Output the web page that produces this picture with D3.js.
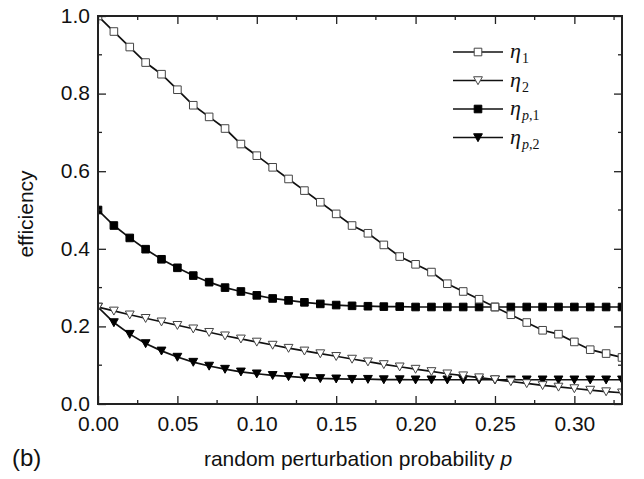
<!DOCTYPE html>
<html>
<head>
<meta charset="utf-8">
<script src="https://cdn.jsdelivr.net/npm/d3@7"></script>
<style>
  body { margin: 0; background: #fff; }
</style>
</head>
<body>
<svg id="chart" width="644" height="479" font-family="Arial, 'Liberation Sans', sans-serif"></svg>
<script>
"use strict";

// perturbation probability p, 0.00 .. 0.33
var pValues = [0.00, 0.01, 0.02, 0.03, 0.04, 0.05, 0.06, 0.07, 0.08, 0.09,
               0.10, 0.11, 0.12, 0.13, 0.14, 0.15, 0.16, 0.17, 0.18, 0.19,
               0.20, 0.21, 0.22, 0.23, 0.24, 0.25, 0.26, 0.27, 0.28, 0.29,
               0.30, 0.31, 0.32, 0.33];

var eta1 = [1.00, 0.96, 0.92, 0.88, 0.85, 0.81, 0.77, 0.74, 0.71, 0.67,
            0.64, 0.61, 0.58, 0.55, 0.52, 0.49, 0.46, 0.44, 0.41, 0.38,
            0.36, 0.34, 0.31, 0.29, 0.27, 0.25, 0.23, 0.21, 0.19, 0.18,
            0.16, 0.14, 0.13, 0.12];

var eta2 = [0.250, 0.240, 0.230, 0.221, 0.212, 0.203, 0.194, 0.185, 0.176, 0.168,
            0.160, 0.152, 0.144, 0.137, 0.130, 0.123, 0.116, 0.109, 0.102, 0.096,
            0.090, 0.084, 0.078, 0.073, 0.068, 0.063, 0.058, 0.053, 0.048, 0.044,
            0.040, 0.036, 0.032, 0.029];

var etaP1 = [0.500, 0.460, 0.428, 0.399, 0.373, 0.351, 0.331, 0.314, 0.300, 0.290,
             0.280, 0.272, 0.267, 0.262, 0.258, 0.255, 0.253, 0.252, 0.251, 0.251,
             0.250, 0.250, 0.250, 0.250, 0.250, 0.250, 0.250, 0.250, 0.250, 0.250,
             0.250, 0.250, 0.250, 0.250];

var etaP2 = [0.250, 0.210, 0.180, 0.156, 0.137, 0.121, 0.108, 0.098, 0.090, 0.083,
             0.078, 0.074, 0.071, 0.068, 0.066, 0.065, 0.064, 0.064, 0.063, 0.063,
             0.0625, 0.0625, 0.0625, 0.0625, 0.0625, 0.0625, 0.0625, 0.0625, 0.0625, 0.0625,
             0.0625, 0.0625, 0.0625, 0.0625];

var xTicks = [0.00, 0.05, 0.10, 0.15, 0.20, 0.25, 0.30];
var yTicks = [0.0, 0.2, 0.4, 0.6, 0.8, 1.0];

var margin = {left: 98, top: 16, right: 22, bottom: 75},
    width = 644 - margin.left - margin.right,
    height = 479 - margin.top - margin.bottom;

var svg = d3.select("#chart");
var g = svg.append("g").attr("transform", "translate(" + margin.left + "," + margin.top + ")");

var x = d3.scaleLinear().domain([0, 0.33]).range([0, width]);
var y = d3.scaleLinear().domain([0, 1.0]).range([height, 0]);

// clip markers at plot edges
svg.append("defs").append("clipPath").attr("id", "plotClip")
    .append("rect").attr("width", width).attr("height", height);

// marker shapes
function squarePath(s) {
    return "M" + (-s) + "," + (-s) + "H" + s + "V" + s + "H" + (-s) + "Z";
}
function triPath(s) {
    return "M" + (-s) + "," + (-s * 0.85) + "H" + s + "L0," + (s * 0.95) + "Z";
}

var series = [
    {name: "etaP1", values: etaP1, shape: "square", filled: true},
    {name: "etaP2", values: etaP2, shape: "tri", filled: true},
    {name: "eta1", values: eta1, shape: "square", filled: false},
    {name: "eta2", values: eta2, shape: "tri", filled: false}
];

var line = d3.line()
    .x(function (d, i) { return x(pValues[i]); })
    .y(function (d) { return y(d); });

var plot = g.append("g").attr("clip-path", "url(#plotClip)");

series.forEach(function (s) {
    var sg = plot.append("g").attr("class", s.name);
    sg.append("path")
        .attr("d", line(s.values))
        .attr("fill", "none")
        .attr("stroke", "#111")
        .attr("stroke-width", 1.7);
    sg.selectAll("path.mk")
        .data(s.values)
        .enter().append("path")
        .attr("class", "mk")
        .attr("transform", function (d, i) { return "translate(" + x(pValues[i]) + "," + y(d) + ")"; })
        .attr("d", s.shape === "square" ? squarePath(3.8) : triPath(4.4))
        .attr("fill", s.filled ? "#000" : "#fff")
        .attr("stroke", s.filled ? "#000" : "#444")
        .attr("stroke-width", 1);
});

// axes: ticks point inward
var tickFont = "21px";
var xAxis = d3.axisBottom(x).tickValues(xTicks).tickFormat(d3.format(".2f"))
    .tickSizeInner(-8).tickSizeOuter(0);
var yAxis = d3.axisLeft(y).tickValues(yTicks).tickFormat(d3.format(".1f"))
    .tickSizeInner(-8).tickSizeOuter(0);

function styleAxis(sel) {
    sel.selectAll(".domain").remove();
    sel.selectAll(".tick line").attr("stroke", "#222").attr("stroke-width", 1.3);
    sel.selectAll(".tick text").attr("font-size", tickFont).attr("fill", "#111")
        .attr("font-family", "Arial, 'Liberation Sans', sans-serif");
}

var gx = g.append("g").attr("transform", "translate(0," + height + ")").call(xAxis).call(styleAxis);
gx.selectAll(".tick text").attr("y", 12).attr("dy", "0.71em");
var gy = g.append("g").call(yAxis).call(styleAxis);
gy.selectAll(".tick text").attr("x", -8).attr("dy", "0.3em");

// top and right mirrored axes without labels
g.append("g").call(d3.axisTop(x).tickValues(xTicks).tickFormat("").tickSizeInner(-8).tickSizeOuter(0)).call(styleAxis);
g.append("g").attr("transform", "translate(" + width + ",0)")
    .call(d3.axisRight(y).tickValues(yTicks).tickFormat("").tickSizeInner(-8).tickSizeOuter(0)).call(styleAxis);

// minor ticks
var xMinor = d3.range(0.025, 0.33, 0.05);
var yMinor = d3.range(0.1, 1.0, 0.2);
var minor = g.append("g").attr("stroke", "#222").attr("stroke-width", 1.3);
minor.selectAll("line.xb").data(xMinor).enter().append("line")
    .attr("x1", function (d) { return x(d); }).attr("x2", function (d) { return x(d); })
    .attr("y1", height).attr("y2", height - 4);
minor.selectAll("line.xt").data(xMinor).enter().append("line")
    .attr("x1", function (d) { return x(d); }).attr("x2", function (d) { return x(d); })
    .attr("y1", 0).attr("y2", 4);
minor.selectAll("line.yl").data(yMinor).enter().append("line")
    .attr("y1", function (d) { return y(d); }).attr("y2", function (d) { return y(d); })
    .attr("x1", 0).attr("x2", 4);
minor.selectAll("line.yr").data(yMinor).enter().append("line")
    .attr("y1", function (d) { return y(d); }).attr("y2", function (d) { return y(d); })
    .attr("x1", width).attr("x2", width - 4);

// frame
g.append("rect").attr("width", width).attr("height", height)
    .attr("fill", "none").attr("stroke", "#222").attr("stroke-width", 2);

// axis titles
svg.append("text")
    .attr("transform", "translate(33," + (margin.top + y(0.5) + 4) + ") rotate(-90)")
    .attr("text-anchor", "middle").attr("font-size", "21px").attr("fill", "#111")
    .text("efficiency");

var xt = svg.append("text")
    .attr("x", margin.left + width / 2 - 2).attr("y", 466)
    .attr("text-anchor", "middle").attr("font-size", "21px").attr("fill", "#111");
xt.append("tspan").text("random perturbation probability ");
xt.append("tspan").attr("font-style", "italic").text("p");

svg.append("text").attr("x", 12).attr("y", 466).attr("font-size", "24px").attr("fill", "#111").text("(b)");

// legend
var legendRows = [
    {main: "1", italicSub: "", shape: "square", filled: false},
    {main: "2", italicSub: "", shape: "tri", filled: false},
    {main: ",1", italicSub: "p", shape: "square", filled: true},
    {main: ",2", italicSub: "p", shape: "tri", filled: true}
];
var legend = svg.append("g").attr("transform", "translate(453,52)");
legendRows.forEach(function (r, i) {
    var row = legend.append("g").attr("transform", "translate(0," + (i * 28.5) + ")");
    row.append("line").attr("x1", 0).attr("x2", 50).attr("stroke", "#111").attr("stroke-width", 1.7);
    row.append("path").attr("transform", "translate(25,0)")
        .attr("d", r.shape === "square" ? squarePath(3.8) : triPath(4.4))
        .attr("fill", r.filled ? "#000" : "#fff")
        .attr("stroke", r.filled ? "#000" : "#444").attr("stroke-width", 1);
    var t = row.append("text").attr("x", 57).attr("y", 6)
        .attr("font-family", "'Liberation Serif', 'Times New Roman', serif")
        .attr("font-size", "22px").attr("fill", "#111");
    t.append("tspan").attr("font-style", "italic").text("\u03b7");
    var sub = t.append("tspan").attr("font-size", "14px").attr("dy", 5).attr("dx", 1);
    if (r.italicSub) sub.append("tspan").attr("font-style", "italic").text(r.italicSub);
    sub.append("tspan").text(r.main);
});
</script>
</body>
</html>
